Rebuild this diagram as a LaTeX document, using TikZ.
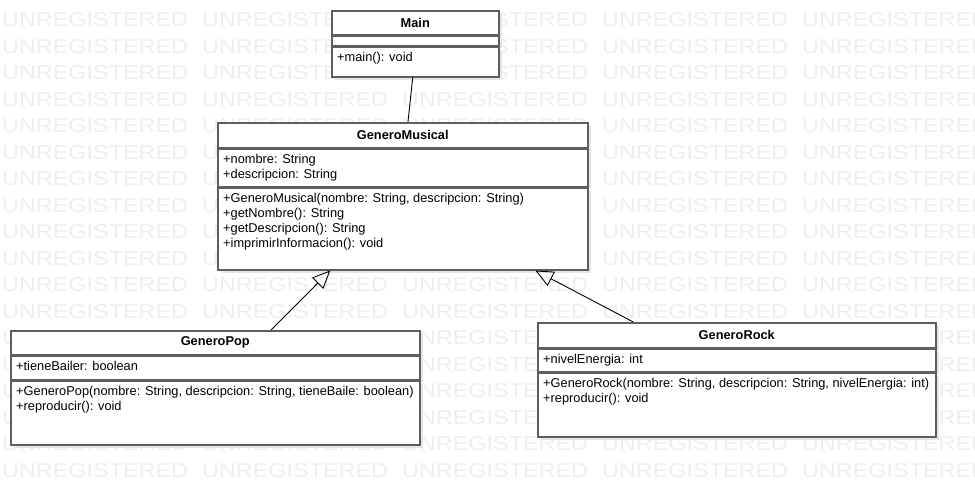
\documentclass[tikz,border=0pt]{standalone}
\usepackage{fontspec}
\setmainfont{Liberation Sans}
\usetikzlibrary{positioning,arrows.meta,shadows,calc}
\definecolor{boxgray}{HTML}{5E5E5E}
\definecolor{wmgray}{HTML}{EEEEEE}
\begin{document}
\begin{tikzpicture}[x=1pt, y=-1pt,
compart/.style={rectangle, draw=boxgray, fill=white, line width=1.5pt, inner sep=0pt, anchor=north west,
	drop shadow={shadow xshift=3pt, shadow yshift=-3pt, fill=black!10, opacity=1}},
classtitle/.style={font=\fontsize{12.8}{14}\selectfont\bfseries, inner sep=0pt},
members/.style={anchor=north west, align=left, inner xsep=6pt, inner ysep=6pt, font=\fontsize{12.8}{15}\selectfont},
watermark/.style={anchor=west, text=wmgray, font=\fontsize{20}{20}\selectfont, inner sep=0pt},
extends/.style={-{Triangle[open, length=18pt, width=16pt]}, line width=0.9pt},
assoc/.style={line width=0.9pt},
]
\useasboundingbox (0,0) rectangle (975,482);
\begin{scope}
\clip (0,0) rectangle (975,482);
\foreach \r in {0,...,17}
	\foreach \c in {0,...,4}
		\node[watermark] (wm-\r-\c) at ({2+200*\c},{20+26.5*\r}) {\scalebox{1.17}[1]{UNREGISTERED}};
\end{scope}

% Main
\node[compart, minimum width=167pt, minimum height=24pt] (main1) at (331,10) {};
\node[compart, minimum width=167pt, minimum height=9pt, below=0pt of main1] (main2) {};
\node[compart, minimum width=167pt, minimum height=30pt, below=0pt of main2] (main3) {};
\node[classtitle] (main1t) at (main1) {Main};
\node[members] (main3t) at (main3.north west) {+main(): void};

% GeneroMusical
\node[compart, minimum width=370pt, minimum height=25pt] (gm1) at (217,122) {};
\node[compart, minimum width=370pt, minimum height=37pt, below=0pt of gm1] (gm2) {};
\node[compart, minimum width=370pt, minimum height=82pt, below=0pt of gm2] (gm3) {};
\node[classtitle] (gm1t) at (gm1) {GeneroMusical};
\node[members] (gm2t) at (gm2.north west) {+nombre: String\\+descripcion: String};
\node[members] (gm3t) at (gm3.north west) {+GeneroMusical(nombre: String, descripcion: String)\\
	+getNombre(): String\\+getDescripcion(): String\\+imprimirInformacion(): void};

% GeneroPop
\node[compart, minimum width=409pt, minimum height=24pt] (pop1) at (10,330) {};
\node[compart, minimum width=409pt, minimum height=23pt, below=0pt of pop1] (pop2) {};
\node[compart, minimum width=409pt, minimum height=64pt, below=0pt of pop2] (pop3) {};
\node[classtitle] (pop1t) at (pop1) {GeneroPop};
\node[members] (pop2t) at (pop2.north west) {+tieneBailer: boolean};
\node[members] (pop3t) at (pop3.north west) {+GeneroPop(nombre: String, descripcion: String, tieneBaile: boolean)\\
	+reproducir(): void};

% GeneroRock
\node[compart, minimum width=398pt, minimum height=25pt] (rock1) at (537,322) {};
\node[compart, minimum width=398pt, minimum height=22pt, below=0pt of rock1] (rock2) {};
\node[compart, minimum width=398pt, minimum height=64pt, below=0pt of rock2] (rock3) {};
\node[classtitle] (rock1t) at (rock1) {GeneroRock};
\node[members] (rock2t) at (rock2.north west) {+nivelEnergia: int};
\node[members] (rock3t) at (rock3.north west) {+GeneroRock(nombre: String, descripcion: String, nivelEnergia: int)\\
	+reproducir(): void};

% connectors
\draw[assoc] ($(main3.south west)!0.485!(main3.south east)$) -- ($(gm1.north west)!0.514!(gm1.north east)$);
\draw[extends] ($(pop1.north west)!0.636!(pop1.north east)$) -- ($(gm3.south west)!0.305!(gm3.south east)$);
\draw[extends] ($(rock1.north west)!0.241!(rock1.north east)$) -- ($(gm3.south west)!0.857!(gm3.south east)$);
\end{tikzpicture}
\end{document}
